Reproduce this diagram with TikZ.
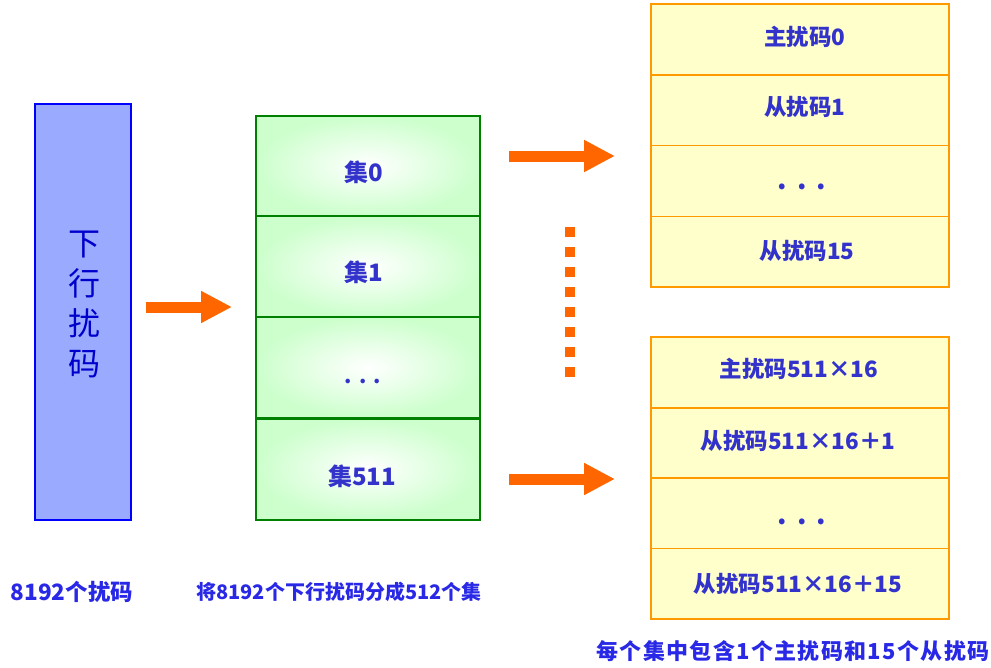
\documentclass[tikz,border=0pt]{standalone}
\usepackage{fontspec}
\newfontfamily\cjk{Noto Sans CJK SC}
\newfontfamily\cjkwide[LetterSpace=6]{Noto Sans CJK SC}
\usetikzlibrary{arrows.meta,calc}
\definecolor{bluefill}{RGB}{153,170,255}
\definecolor{blueline}{RGB}{0,0,255}
\definecolor{darkblue}{RGB}{0,0,204}
\definecolor{txt}{RGB}{51,51,204}
\definecolor{lbl}{RGB}{40,40,230}
\definecolor{greenline}{RGB}{0,128,0}
\definecolor{greenfill}{RGB}{204,255,204}
\definecolor{yellowfill}{RGB}{255,255,204}
\definecolor{orangeline}{RGB}{255,153,0}
\definecolor{arrowc}{RGB}{255,102,0}
\tikzset{
  bluebox/.style={draw=blueline,line width=1.5pt,fill=bluefill,minimum width=96pt,minimum height=416pt,inner sep=0pt},
  greencell/.style={draw=greenline,line width=2pt,inner color=white,outer color=greenfill,minimum width=224pt,minimum height=101pt,inner sep=0pt},
  yellowcell/.style={draw=orangeline,line width=1.5pt,fill=yellowfill,minimum width=298pt,minimum height=70.8pt,inner sep=0pt},
  greentext/.style={font=\cjk\bfseries\fontsize{24}{26}\selectfont,text=txt,inner sep=0pt},
  celltext/.style={font=\cjk\bfseries\fontsize{22.5}{24}\selectfont,text=txt,inner sep=0pt},
  dots/.style={font=\cjk\bfseries\fontsize{27}{28}\selectfont,text=txt,inner sep=0pt},
  bottomtext/.style={font=\cjk\bfseries\fontsize{20}{22}\selectfont,text=lbl,inner sep=0pt},
  bigarrow/.style={draw=arrowc,line width=11pt,-{Triangle[length=31pt,width=30pt,fill=arrowc]}},
  dotline/.style={draw=arrowc,line width=10pt,dash pattern=on 10pt off 10pt}
}
\begin{document}
\begin{tikzpicture}[x=1pt,y=-1pt]
\useasboundingbox (0,0) rectangle (991,667);
% left box
\node[bluebox] (dl) at (83,312) {};
\node[font=\cjk\fontsize{32}{40}\selectfont,text=darkblue,align=center,inner sep=0pt] (dltext) at (84,304) {下\\行\\扰\\码};
% green column
\node[greencell] (s0) at (368,166) {};
\node[greencell] (s1) at (368,266.5) {};
\node[greencell] (s2) at (368,367.5) {};
\node[greencell] (s3) at (368,469) {};
\node[greentext] (t0) at ($(s0.center)+(-4,6)$) {集0};
\node[greentext] (t1) at ($(s1.center)+(-4,6)$) {集1};
\node[greentext,font=\cjk\bfseries\fontsize{21}{22}\selectfont] (t2) at ($(s2.center)+(-5,14)$) {.\hspace{7pt}.\hspace{7pt}.};
\node[greentext] (t3) at ($(s3.center)+(-6,7)$) {集511};
% top right
\node[yellowcell] (a0) at (800,39.4) {};
\node[yellowcell] (a1) at (800,110.2) {};
\node[yellowcell] (a2) at (800,181) {};
\node[yellowcell] (a3) at (800,251.8) {};
\node[celltext] (at0) at ($(a0.center)+(5,-3)$) {主扰码0};
\node[celltext] (at1) at ($(a1.center)+(5,-3)$) {从扰码1};
\node[dots] (at2) at ($(a2.center)+(2,6)$) {.\hspace{10pt}.\hspace{10pt}.};
\node[celltext] (at3) at ($(a3.center)+(7,-1)$) {从扰码15};
% bottom right
\node[yellowcell] (b0) at (800,372.5) {};
\node[yellowcell] (b1) at (800,443.5) {};
\node[yellowcell] (b2) at (800,513.5) {};
\node[yellowcell] (b3) at (800,583.8) {};
\node[celltext] (bt0) at ($(b0.center)+(-1,-4)$) {主扰码511×16};
\node[celltext] (bt1) at ($(b1.center)+(-2,-3)$) {从扰码511×16＋1};
\node[dots] (bt2) at ($(b2.center)+(2,8)$) {.\hspace{10pt}.\hspace{10pt}.};
\node[celltext] (bt3) at ($(b3.center)+(-2,0)$) {从扰码511×16＋15};
% arrows
\coordinate (c1s) at (146,307);
\coordinate (c1e) at (232,307);
\draw[bigarrow] (c1s) -- (c1e);
\coordinate (c2s) at (509,156);
\coordinate (c2e) at (615,156);
\draw[bigarrow] (c2s) -- (c2e);
\coordinate (c3s) at (509,479);
\coordinate (c3e) at (615,479);
\draw[bigarrow] (c3s) -- (c3e);
\coordinate (d1) at (570,227);
\coordinate (d2) at (570,380);
\draw[dotline] (d1) -- (d2);
% bottom labels
\node[bottomtext,font=\cjk\bfseries\fontsize{22.5}{24}\selectfont] (l1) at (72,592) {8192个扰码};
\node[bottomtext] (l2) at (339,592) {将8192个下行扰码分成512个集};
\node[bottomtext,font=\cjkwide\bfseries\fontsize{22}{24}\selectfont] (l3) at (793,651) {每个集中包含1个主扰码和15个从扰码};
\end{tikzpicture}
\end{document}
